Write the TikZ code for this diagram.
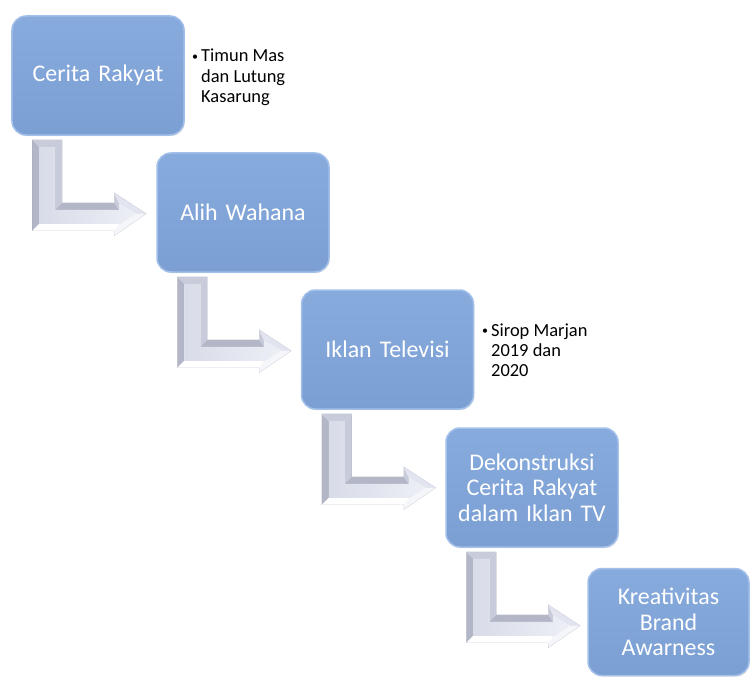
\documentclass[tikz,border=0pt]{standalone}
\usepackage{fontspec}
\setmainfont{Carlito}
\usetikzlibrary{shadows,calc}
\definecolor{boxtop}{HTML}{88ABDE}
\definecolor{boxbot}{HTML}{7C9FD3}
\definecolor{boxrim}{HTML}{A3C0EA}
\definecolor{arrdark}{HTML}{B2B6C7}
\definecolor{arrmid}{HTML}{C8CBD9}
\definecolor{arrlight}{HTML}{E2E5EF}
\definecolor{arrwhite}{HTML}{F5F6FA}
\definecolor{arrfaceL}{HTML}{D8DCE8}
\definecolor{arrfaceR}{HTML}{EDEFF6}
\newcommand{\mybul}{\makebox[12bp][c]{\fontsize{12}{12}\selectfont\raisebox{1.6bp}{•}}}
\tikzset{
  sbox/.style={rectangle, rounded corners=14bp, minimum width=172bp, minimum height=119bp,
    inner sep=0pt, text width=168bp, align=center, font=\fontsize{24}{25.5}\selectfont,
    text=white, top color=boxtop, bottom color=boxbot, draw=boxrim, line width=1.5bp,
    drop shadow={opacity=0.22, shadow xshift=0.8bp, shadow yshift=-1.2bp}},
  note/.style={anchor=base west, inner sep=0pt, font=\fontsize{18.5}{20.5}\selectfont, text=black},
  larrow/.pic={
    \coordinate (A) at (0,0);   \coordinate (B) at (30,0);  \coordinate (C) at (30,63);
    \coordinate (D) at (82,63); \coordinate (E) at (82,53); \coordinate (F) at (114,74);
    \coordinate (G) at (82,96); \coordinate (H) at (82,91); \coordinate (I) at (0,91);
    \coordinate (p1) at (7,7);  \coordinate (p2) at (23,7);  \coordinate (p3) at (23,70);
    \coordinate (p4) at (87,70); \coordinate (p5) at (87,64); \coordinate (p6) at (104,74);
    \coordinate (p7) at (87,85); \coordinate (p8) at (87,84); \coordinate (p9) at (7,84);
    \fill[arrdark] (A) -- (p1) -- (p9) -- (I) -- cycle;
    \fill[arrmid] (A) -- (B) -- (p2) -- (p1) -- cycle;
    \fill[arrmid] (B) -- (C) -- (p3) -- (p2) -- cycle;
    \fill[arrdark] (C) -- (D) -- (p4) -- (p3) -- cycle;
    \fill[arrmid] (D) -- (E) -- (p5) -- (p4) -- cycle;
    \fill[arrlight] (E) -- (F) -- (p6) -- (p5) -- cycle;
    \fill[arrwhite] (F) -- (G) -- (p7) -- (p6) -- cycle;
    \fill[arrwhite] (G) -- (H) -- (p8) -- (p7) -- cycle;
    \fill[white] (H) -- (I) -- (p9) -- (p8) -- cycle;
    \shade[left color=arrfaceL, right color=arrfaceR]
      (p1) -- (p2) -- (p3) -- (p4) -- (p5) -- (p6) -- (p7) -- (p8) -- (p9) -- cycle;
    \draw[arrdark!80!black, line width=0.3bp, opacity=0.4]
      (A) -- (B) -- (C) -- (D) -- (E) -- (F) -- (G) -- (H) -- (I) -- cycle;
  }
}
\begin{document}
\begin{tikzpicture}[x=1bp,y=-1bp]
\useasboundingbox (0,0) rectangle (752,677);
\clip (0,0) rectangle (752,677);

\node[sbox] (b1) at (98,75.5) {Cerita Rakyat};
\node[sbox] (b2) at (243,212.5) {Alih Wahana};
\node[sbox] (b3) at (387.5,349.5) {Iklan Televisi};
\node[sbox] (b4) at (532,487.5) {Dekonstruksi\\Cerita Rakyat\\dalam Iklan TV};
\node[sbox, minimum width=161bp, minimum height=107bp, text width=157bp] (b5) at (668.5,622) {Kreativitas\\Brand\\Awarness};

\pic at ($(b1.south west)+(21,4)$) {larrow};
\pic at ($(b2.south west)+(21,4)$) {larrow};
\pic at ($(b3.south west)+(21,4)$) {larrow};
\pic at ($(b4.south west)+(21,4)$) {larrow};

\node[note] (t1) at (189,62) {\parbox[t]{130bp}{\mybul Timun Mas\\\hspace*{12bp}dan Lutung\\\hspace*{12bp}Kasarung}};
\node[note] (t3) at (479,336) {\parbox[t]{130bp}{\mybul Sirop Marjan\\\hspace*{12bp}2019 dan\\\hspace*{12bp}2020}};
\end{tikzpicture}
\end{document}
